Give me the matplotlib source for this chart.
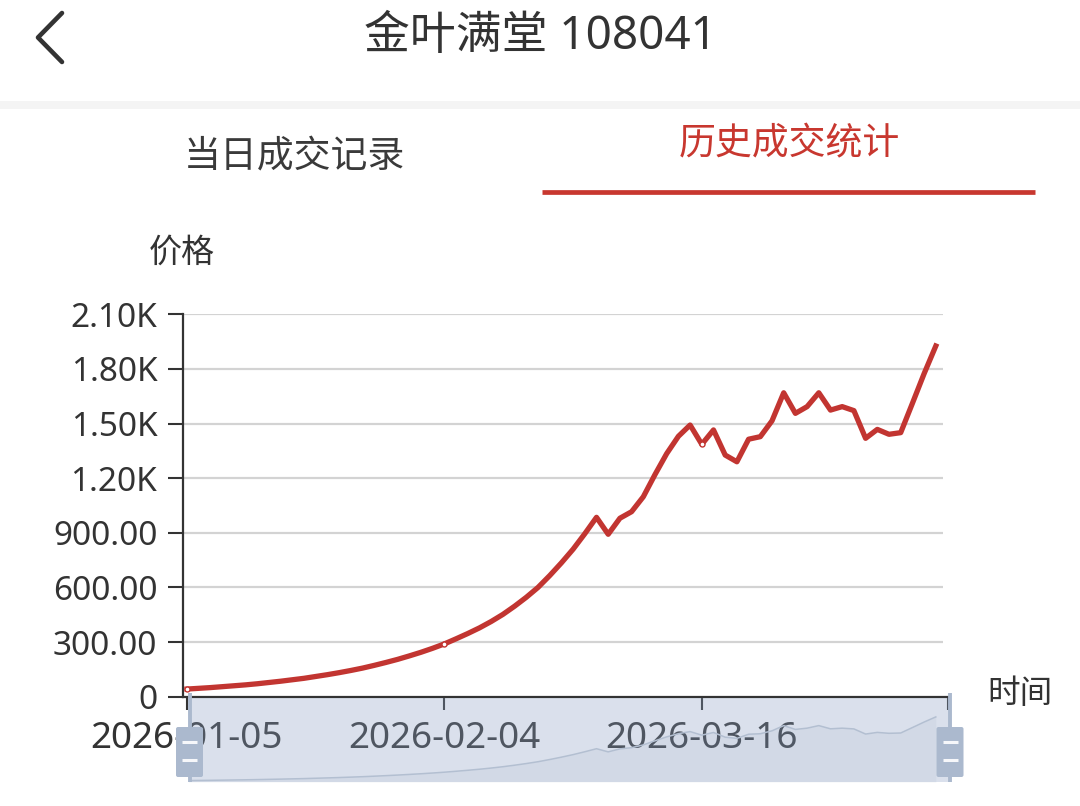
import numpy as np
import matplotlib

matplotlib.use('Agg')
import matplotlib.pyplot as plt
from matplotlib.patches import Rectangle, FancyBboxPatch

plt.rcParams['font.family'] = ['Noto Sans', 'Noto Sans CJK SC', 'DejaVu Sans']

# --- data ---
title = "金叶满堂 108041"
tabs = ["当日成交记录", "历史成交统计"]
y_name = "价格"
x_name = "时间"

# daily closing price, one value per trading day (category); the last category has no value yet
prices = [42, 46, 50, 55, 60, 65, 71, 78, 85, 93,
          101, 111, 121, 132, 144, 157, 172, 188, 205, 224,
          244, 266, 290, 318, 347, 378, 413, 452, 497, 546,
          600, 665, 735, 810, 895, 985, 892, 980, 1016, 1098,
          1220, 1335, 1430, 1492, 1386, 1465, 1327, 1290, 1414, 1428,
          1515, 1669, 1556, 1593, 1669, 1574, 1593, 1571, 1419, 1468,
          1441, 1450, 1611, 1774, 1926]
n_categories = 66
label_idx = [0, 22, 44]
label_dates = ["2026-01-05", "2026-02-04", "2026-03-16"]
y_ticks = [0, 300, 600, 900, 1200, 1500, 1800, 2100]
y_labels = ["0", "300.00", "600.00", "900.00", "1.20K", "1.50K", "1.80K", "2.10K"]

RED = '#c23531'
DARK = '#333333'
W, H = 1080, 806

fig = plt.figure(figsize=(W / 100, H / 100), dpi=100)
fig.patch.set_facecolor('white')


def frac(x0, y0, x1, y1):
    # pixel box (top-left origin) -> figure fraction rect
    return [x0 / W, 1 - y1 / H, (x1 - x0) / W, (y1 - y0) / H]


# background layer: header, tabs, axis names
bg = fig.add_axes([0, 0, 1, 1], zorder=0)
bg.set_xlim(0, W)
bg.set_ylim(H, 0)
bg.axis('off')

bg.plot([62, 38, 62], [13, 37.5, 62], color=DARK, lw=3.3, solid_capstyle='round',
        solid_joinstyle='round')
bg.text(540, 37, title, ha='center', va='center', fontsize=33, color=DARK)
bg.add_patch(Rectangle((0, 101), W, 8, color='#f4f4f4', lw=0))
bg.text(294, 157, tabs[0], ha='center', va='center', fontsize=26.6, color='#3a3a3a')
bg.text(789, 145, tabs[1], ha='center', va='center', fontsize=26.6, color='#c8372f')
bg.plot([542, 1035], [191.5, 191.5], color='#c8372f', lw=3.4, solid_capstyle='butt')
bg.text(182, 253, y_name, ha='center', va='center', fontsize=23.8, color=DARK)
bg.text(1020, 695, x_name, ha='center', va='center', fontsize=23.5, color=DARK)

# chart
idx = np.arange(len(prices))
x_left = -4 / 11.7
ax = fig.add_axes(frac(183, 314.3, 947.5, 696.7), zorder=1)
ax.set_facecolor('none')
ax.hlines(y_ticks[1:], x_left, 64.6, color='#d3d3d3', lw=1.6, zorder=1)
ax.plot(idx, prices, color=RED, lw=3.8, solid_joinstyle='round', zorder=3)
ax.plot(idx[label_idx], np.array(prices)[label_idx], 'o', ms=3.6, mfc='white',
        mec=RED, mew=1.0, zorder=4)
ax.set_xlim(x_left, n_categories - 1)
ax.set_ylim(0, 2100)
ax.set_yticks(y_ticks)
ax.set_yticklabels(y_labels)
ax.set_xticks(label_idx + [n_categories - 1])
ax.set_xticklabels(label_dates + [''])
for side in ['top', 'right']:
    ax.spines[side].set_visible(False)
for side in ['left', 'bottom']:
    ax.spines[side].set_color(DARK)
    ax.spines[side].set_linewidth(1.6)
ax.tick_params(axis='y', length=10.8, width=1.5, color=DARK, pad=7.7,
               labelsize=24, labelcolor=DARK)
ax.tick_params(axis='x', length=9.4, width=1.5, color=DARK, pad=8,
               labelsize=26.6, labelcolor=DARK)

# data zoom slider (drawn over the date labels)
sax = fig.add_axes(frac(189, 698, 950, 782), zorder=2)
sax.set_facecolor((140 / 255, 161 / 255, 196 / 255, 0.32))
for s in sax.spines.values():
    s.set_visible(False)
sax.set_xticks([])
sax.set_yticks([])
sax.set_xlim((189 - 187) / 11.7, (950 - 187) / 11.7)
sax.set_ylim(0, 2486)
sax.fill_between(idx, prices, 0, color=(0.42, 0.5, 0.64, 0.07), lw=0)
sax.plot(idx, prices, color='#b3bfd1', lw=1.1)

# slider handles
hx = fig.add_axes([0, 0, 1, 1], zorder=3)
hx.set_xlim(0, W)
hx.set_ylim(H, 0)
hx.axis('off')
HANDLE = '#abb9ce'
for cx in [189.5, 950]:
    hx.plot([cx, cx], [693, 782], color=HANDLE, lw=2.8, solid_capstyle='butt')
    hx.add_patch(FancyBboxPatch((cx - 13.5, 727), 27, 50, boxstyle='round,pad=0,rounding_size=2',
                                fc=HANDLE, ec='none'))
    for dy in [742, 760]:
        hx.plot([cx - 7.5, cx + 7.5], [dy, dy], color='white', lw=2.2, alpha=0.9,
                solid_capstyle='butt')

fig.savefig('out.png', dpi=100, facecolor='white')
